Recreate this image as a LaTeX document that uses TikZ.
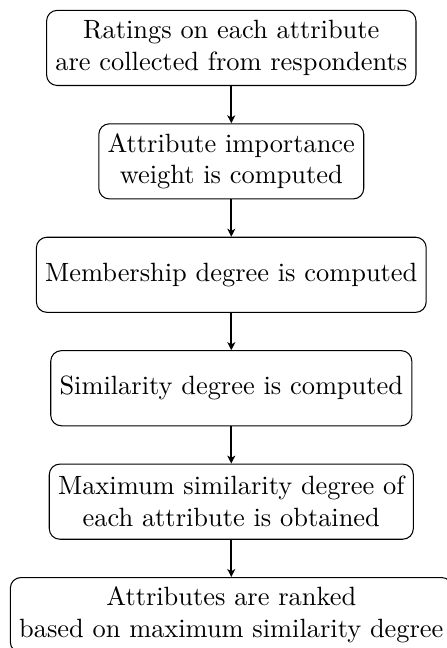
\documentclass[tikz,border=0pt]{standalone}
\usetikzlibrary{arrows.meta}
\definecolor{flowLine}{HTML}{000000}
\tikzset{
  flowfig/.style={
    every node/.append style={font=\normalsize},
    >={Stealth[length=3pt, width=3pt, inset=0.8pt]},
  },
  stepbox/.style={
    draw=flowLine, line width=0.4pt, rounded corners=4pt,
    align=center, minimum height=1cm,
  },
  flowarrow/.style={draw=flowLine, thick, ->},
}
\begin{document}
\begin{tikzpicture}[flowfig]
  % Seitenrand wie im Original (unterer Kasten wird angeschnitten)
  \useasboundingbox (-3.079,0.638) rectangle (2.871,-7.988);
  \node[stepbox] (Ratings) at (0.0,0.0) {Ratings on each attribute\\are collected from respondents};
  \node[stepbox] (Weight) at (0.0,-1.51) {Attribute importance\\weight is computed};
  \node[stepbox] (Membership) at (0.0,-3.02) {Membership degree is computed};
  \node[stepbox] (Similarity) at (0.0,-4.53) {Similarity degree is computed};
  \node[stepbox] (MaxSimilarity) at (0.0,-6.04) {Maximum similarity degree of\\each attribute is obtained};
  \node[stepbox] (Ranking) at (0.0,-7.55) {Attributes are ranked\\based on maximum similarity degree};
  \draw[flowarrow] (Ratings) -- (Weight);
  \draw[flowarrow] (Weight) -- (Membership);
  \draw[flowarrow] (Membership) -- (Similarity);
  \draw[flowarrow] (Similarity) -- (MaxSimilarity);
  \draw[flowarrow] (MaxSimilarity) -- (Ranking);
\end{tikzpicture}
\end{document}
